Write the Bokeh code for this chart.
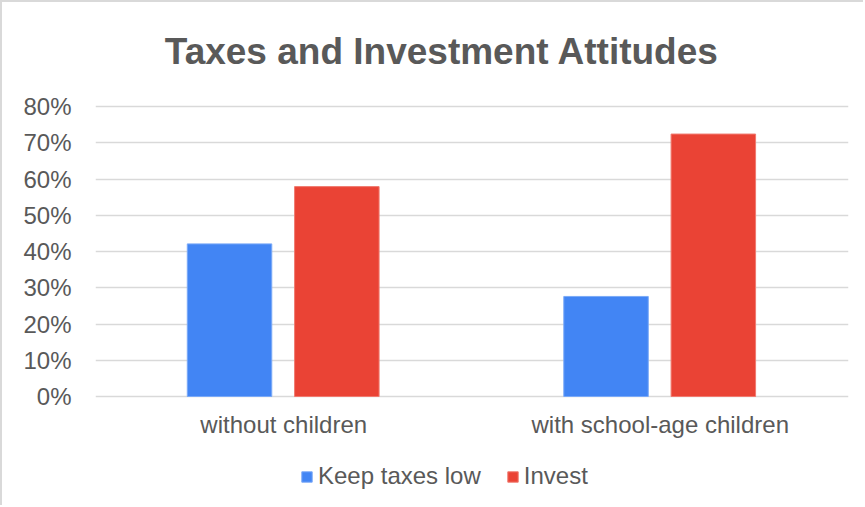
from bokeh.plotting import figure
from bokeh.models import (ColumnDataSource, FactorRange, FixedTicker, NumeralTickFormatter,
                          Legend, LegendItem, Label)
from bokeh.core.properties import value
from bokeh.transform import dodge
from bokeh.embed import file_html
from bokeh.resources import INLINE

categories = ["without children", "with school-age children"]
keep_taxes_low = [0.421, 0.276]
invest = [0.579, 0.724]
y_ticks = [0.0, 0.1, 0.2, 0.3, 0.4, 0.5, 0.6, 0.7, 0.8]
title_text = "Taxes and Investment Attitudes"
series_names = ["Keep taxes low", "Invest"]

FONT = "Liberation Sans"
TXT = "#595959"
GRID = "#d9d9d9"

source = ColumnDataSource(dict(cat=categories, low=keep_taxes_low, inv=invest))

# frame spans the full height so title, category labels and legend live inside it;
# y range chosen so that 0% and 80% fall where the reference gridlines are
p = figure(width=863, height=505, x_range=FactorRange(*categories), y_range=(-0.3062, 1.0869),
           output_backend="svg", toolbar_location=None, x_axis_location=None,
           min_border_left=93, min_border_right=17, min_border_top=0, min_border_bottom=0,
           styles={"border-left": "2px solid #d9d9d9", "border-top": "2px solid #d9d9d9"})
p.title.visible = False
p.title.standoff = 0
p.outline_line_color = None
p.background_fill_color = "white"
p.border_fill_color = "white"

r1 = p.vbar(x=dodge("cat", -0.144, range=p.x_range), top="low", bottom=0, width=0.2244,
            source=source, fill_color="#4285F4", line_color="#7aa9f7", line_width=1)
r2 = p.vbar(x=dodge("cat", 0.141, range=p.x_range), top="inv", bottom=0, width=0.2244,
            source=source, fill_color="#EA4335", line_color="#f07a6f", line_width=1)

p.yaxis.ticker = FixedTicker(ticks=y_ticks)
p.yaxis.formatter = NumeralTickFormatter(format="0%")
p.yaxis.axis_line_color = None
p.yaxis.major_tick_line_color = None
p.yaxis.minor_tick_line_color = None
p.yaxis.major_label_text_font = FONT
p.yaxis.major_label_text_font_size = "24px"
p.yaxis.major_label_text_color = TXT
p.yaxis.major_label_standoff = 18

p.xgrid.grid_line_color = None
p.ygrid.ticker = FixedTicker(ticks=y_ticks)
p.ygrid.grid_line_color = GRID
p.ygrid.grid_line_width = 1.5

# category labels under the bars
p.text(x="cat", y=-0.0772, text="cat", source=source, text_font=value(FONT),
       text_font_size="24px", text_color=TXT, text_align="center", text_baseline="alphabetic")

# chart title
p.add_layout(Label(x=0.9203, y=0.9517, text=title_text, text_font=FONT, text_font_size="37px",
                   text_font_style="bold", text_color=TXT, text_align="center",
                   text_baseline="alphabetic"))

legend = Legend(items=[LegendItem(label=series_names[0], renderers=[r1]),
                       LegendItem(label=series_names[1], renderers=[r2])],
                orientation="horizontal", location=(205, 17),
                label_text_font=FONT, label_text_font_size="24px", label_text_color=TXT,
                glyph_width=13, glyph_height=13, label_standoff=5, spacing=25,
                padding=0, margin=0, border_line_color=None, background_fill_alpha=0)
p.add_layout(legend)

open("out.html", "w").write(file_html(p, INLINE))
